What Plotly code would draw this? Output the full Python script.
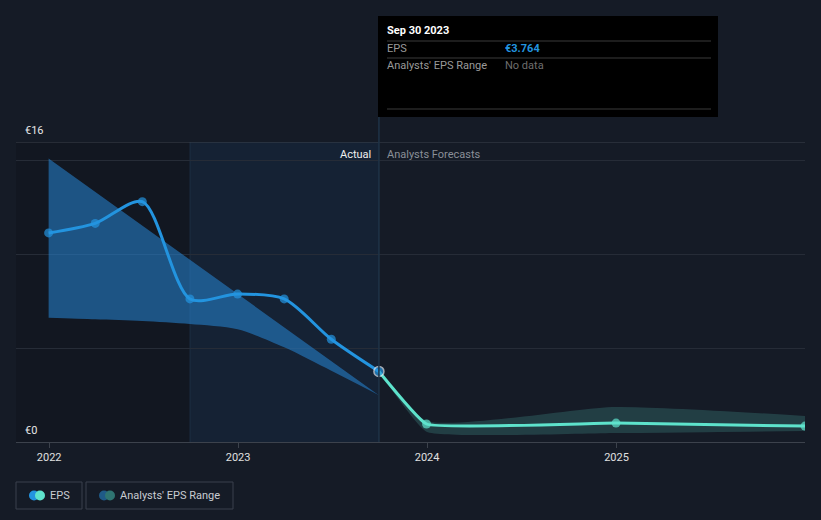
import plotly.graph_objects as go

# ---- data ----
actual_dates = ["2021-12-31", "2022-03-31", "2022-06-30", "2022-09-30",
                "2022-12-31", "2023-03-31", "2023-06-30", "2023-09-30"]
actual_eps = [11.15, 11.66, 12.82, 7.63, 7.89, 7.63, 5.48, 3.764]

forecast_dates = ["2023-09-30", "2023-12-31", "2024-12-31", "2025-12-31"]
forecast_eps = [3.764, 0.96, 1.01, 0.85]
forecast_high = [3.764, 1.14, 1.87, 1.39]
forecast_low = [3.764, 0.55, 0.48, 0.59]

past_range_upper_dates = ["2021-12-31", "2023-09-30"]
past_range_upper = [15.12, 2.5]
past_range_lower_dates = ["2021-12-31", "2022-03-31", "2022-06-30", "2022-09-30",
                          "2022-12-31", "2023-03-31", "2023-06-30", "2023-09-30"]
past_range_lower = [6.63, 6.55, 6.45, 6.29, 6.01, 5.05, 3.80, 2.5]

year_ticks = ["2022-01-01", "2023-01-01", "2024-01-01", "2025-01-01"]
year_labels = ["2022", "2023", "2024", "2025"]

BG = "#151b26"
BLUE = "#2394df"
TEAL = "#5ee3cc"
FONT = "Roboto"

W, H = 821, 520
L, R, T, B = 16, 16, 142, 78
PW, PH = W - L - R, H - T - B


def px(x):
    return (x - L) / PW


def py(y):
    return (H - B - y) / PH


fig = go.Figure()

# past analyst range (blue wedge)
fig.add_trace(go.Scatter(x=past_range_lower_dates, y=past_range_lower, mode="lines",
                         line=dict(width=0, shape="spline", smoothing=0.8, color="rgba(0,0,0,0)"),
                         hoverinfo="skip", showlegend=False))
fig.add_trace(go.Scatter(x=past_range_upper_dates, y=past_range_upper, mode="lines",
                         line=dict(width=0, color="rgba(0,0,0,0)"), fill="tonexty",
                         fillcolor="rgba(38,130,205,0.58)", hoverinfo="skip", showlegend=False))

# forecast range band
fig.add_trace(go.Scatter(x=forecast_dates, y=forecast_low, mode="lines",
                         line=dict(width=0, shape="spline", smoothing=0.35, color="rgba(0,0,0,0)"),
                         hoverinfo="skip", showlegend=False))
fig.add_trace(go.Scatter(x=forecast_dates, y=forecast_high, mode="lines",
                         line=dict(width=0, shape="spline", smoothing=0.6, color="rgba(0,0,0,0)"),
                         fill="tonexty", fillcolor="rgba(60,130,125,0.35)",
                         hoverinfo="skip", showlegend=False))

# forecast EPS line
fig.add_trace(go.Scatter(x=forecast_dates, y=forecast_eps, mode="lines+markers",
                         line=dict(color=TEAL, width=3, shape="spline", smoothing=0.3),
                         marker=dict(size=[0, 9, 9, 9], color=TEAL, line=dict(width=0)),
                         hoverinfo="skip", showlegend=False))

# actual EPS line
fig.add_trace(go.Scatter(x=actual_dates, y=actual_eps, mode="lines+markers",
                         line=dict(color=BLUE, width=3, shape="spline", smoothing=0.8),
                         marker=dict(size=[9] * 7 + [10], color=BLUE,
                                     line=dict(color=["rgba(0,0,0,0)"] * 7 + ["#dfe6ee"],
                                               width=[0] * 7 + [1.5])),
                         hoverinfo="skip", showlegend=False))

shapes = [
    dict(type="rect", xref="x", yref="paper", x0="2021-10-29", x1="2022-09-30", y0=0, y1=1,
         layer="below", fillcolor="rgba(0,0,0,0.12)", line=dict(width=0)),
    dict(type="rect", xref="x", yref="paper", x0="2022-09-30", x1="2023-09-30",
         y0=0, y1=1, layer="below", fillcolor="rgba(20,80,140,0.14)", line=dict(width=0)),
    dict(type="line", xref="x", yref="paper", x0="2022-09-30", x1="2022-09-30",
         y0=0, y1=1, layer="below", line=dict(color="rgba(40,70,100,0.4)", width=1)),
    # top line at 16
    dict(type="line", xref="paper", yref="y", x0=0, x1=1, y0=16, y1=16,
         line=dict(color="#3c424c", width=1)),
    # vertical cursor line
    dict(type="line", xref="x", yref="paper", x0="2023-09-30", x1="2023-09-30",
         y0=0, y1=py(117), line=dict(color="#1f3348", width=1.5)),
    # tooltip box
    dict(type="rect", xref="paper", yref="paper", x0=px(378), x1=px(718),
         y0=py(117), y1=py(16), fillcolor="#000000", line=dict(width=0)),
]
for yy in (41, 58, 109):
    shapes.append(dict(type="line", xref="paper", yref="paper", x0=px(387), x1=px(711),
                       y0=py(yy), y1=py(yy), line=dict(color="#3a3a3a", width=1)))
# legend boxes
shapes.append(dict(type="rect", xref="paper", yref="paper", x0=px(16), x1=px(82),
                   y0=py(509), y1=py(482), line=dict(color="#3a414c", width=1)))
shapes.append(dict(type="rect", xref="paper", yref="paper", x0=px(86), x1=px(233),
                   y0=py(509), y1=py(482), line=dict(color="#3a414c", width=1)))


def dot(cx, cy, r, color):
    return dict(type="circle", xref="paper", yref="paper", x0=px(cx - r), x1=px(cx + r),
                y0=py(cy + r), y1=py(cy - r), fillcolor=color, line=dict(width=0))


shapes += [dot(34, 495.5, 5, BLUE), dot(40, 495.5, 5, TEAL),
           dot(104, 495.5, 5, "#1f5a87"), dot(110, 495.5, 5, "#2f7471")]

annotations = []


def txt(x, y, s, color, size=11, anchor="left", bold=False):
    xx = x - 2 if anchor == "left" else x + 2
    annotations.append(dict(xref="paper", yref="paper", x=px(xx), y=py(y),
                            text=(f"<b>{s}</b>" if bold else s),
                            showarrow=False, xanchor=anchor, yanchor="middle",
                            font=dict(family=FONT, size=size, color=color)))


txt(25, 130, "€16", "#e6e6e6")
txt(25, 430, "€0", "#e6e6e6")
txt(371, 154, "Actual", "#f0f0f0", anchor="right")
txt(387, 154, "Analysts Forecasts", "#8a8f98")
txt(387, 31, "Sep 30 2023", "#ffffff", size=11, bold=True)
txt(387, 48, "EPS", "#9a9a9a")
txt(505, 48, f"€{actual_eps[-1]:.3f}", BLUE, bold=True)
txt(387, 66, "Analysts' EPS Range", "#9a9a9a")
txt(505, 66, "No data", "#6e6e6e")
txt(50, 495.5, "EPS", "#c8ccd2")
txt(120, 495.5, "Analysts' EPS Range", "#c8ccd2")

fig.update_layout(
    width=W, height=H,
    margin=dict(l=L, r=R, t=T, b=B),
    paper_bgcolor=BG, plot_bgcolor=BG,
    showlegend=False,
    shapes=shapes, annotations=annotations,
    xaxis=dict(type="date", range=["2021-10-29", "2025-12-31"], tickvals=year_ticks,
               ticktext=year_labels, showgrid=False, zeroline=False,
               showline=True, linecolor="#3c424c", linewidth=1,
               ticks="outside", ticklen=5, tickcolor="#3c424c",
               tickfont=dict(family=FONT, size=11, color="#e0e0e0")),
    yaxis=dict(range=[0, 16], tickvals=[5, 10, 15], showticklabels=False,
               showgrid=True, gridcolor="#262c37", gridwidth=1, zeroline=False),
    hovermode=False,
)

fig.write_html("out.html")
